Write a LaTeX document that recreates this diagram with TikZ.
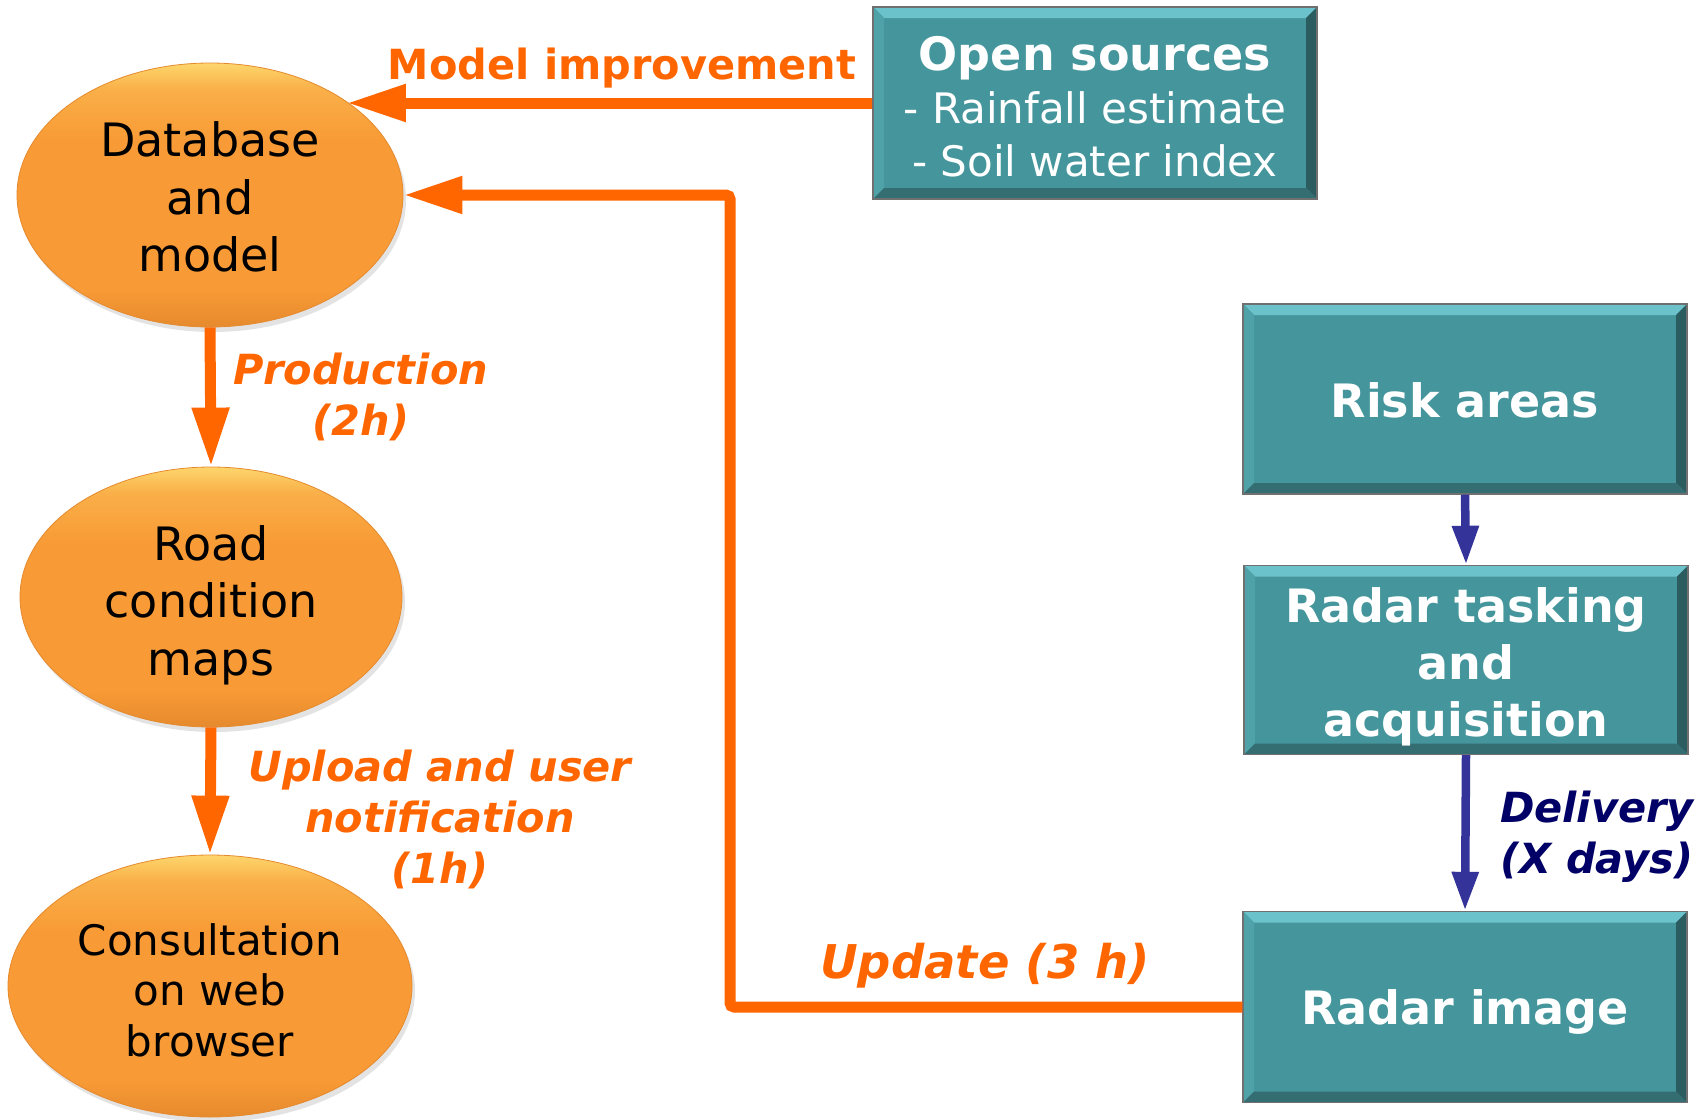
\documentclass[tikz,border=0pt]{standalone}
\usepackage{fontspec}
\setmainfont{DejaVu Sans}
\usetikzlibrary{arrows.meta,shapes.geometric,shadows}
\definecolor{arrorange}{HTML}{FF6600}
\definecolor{txtorange}{HTML}{FF6600}
\definecolor{tealmain}{HTML}{45969C}
\definecolor{tealtop}{HTML}{6CC2CA}
\definecolor{tealleft}{HTML}{4FA2A8}
\definecolor{tealright}{HTML}{2B5C60}
\definecolor{tealbottom}{HTML}{346E73}
\definecolor{edgegray}{HTML}{707070}
\definecolor{ellorange}{HTML}{F89A35}
\definecolor{ellyellow}{HTML}{FDD66C}
\definecolor{ellrim}{HTML}{E58A2E}
\definecolor{bluearr}{HTML}{333399}
\definecolor{navytxt}{HTML}{000066}
\pgfdeclareverticalshading{ellshade}{100bp}{color(0bp)=(ellrim); color(25bp)=(ellrim); color(32bp)=(ellorange); color(60bp)=(ellorange); color(70bp)=(ellorange!65!ellyellow); color(75bp)=(ellyellow); color(100bp)=(ellyellow)}
\begin{document}
\begin{tikzpicture}[x=1pt,y=-1pt,
  ellnode/.style={ellipse, inner sep=0pt, draw=ellrim, line width=0.8pt,
    shading=ellshade, drop shadow={opacity=0.22, shadow xshift=3pt, shadow yshift=-5pt}},
  elltext/.style={align=center, text=black, inner sep=0pt},
  tealbox/.style={rectangle, inner sep=0pt, fill=tealmain, draw=edgegray, line width=1.4pt,
    minimum width=444pt,
    path picture={
      \coordinate (bnw) at (path picture bounding box.north west);
      \coordinate (bne) at (path picture bounding box.north east);
      \coordinate (bsw) at (path picture bounding box.south west);
      \coordinate (bse) at (path picture bounding box.south east);
      \fill[tealtop] (bnw) -- (bne) -- ([shift={(-11pt,-11pt)}]bne) -- ([shift={(11pt,-11pt)}]bnw) -- cycle;
      \fill[tealleft] (bnw) -- ([shift={(11pt,-11pt)}]bnw) -- ([shift={(11pt,11pt)}]bsw) -- (bsw) -- cycle;
      \fill[tealright] (bne) -- ([shift={(-11pt,-11pt)}]bne) -- ([shift={(-11pt,11pt)}]bse) -- (bse) -- cycle;
      \fill[tealbottom] (bsw) -- ([shift={(11pt,11pt)}]bsw) -- ([shift={(-11pt,11pt)}]bse) -- (bse) -- cycle;
    }},
  boxtext/.style={text=white, align=center, inner sep=0pt},
  boxtitle/.style={font=\fontsize{46}{57}\selectfont\bfseries},
  oarr/.style={draw=arrorange, line width=11pt, -{Triangle[length=59pt,width=35pt]}},
  barr/.style={draw=bluearr, line width=8.5pt, -{Triangle[length=39pt,width=25pt]}},
  olabel/.style={text=txtorange, align=center, inner sep=0pt},
  italabel/.style={font=\fontsize{41.5}{51}\selectfont\bfseries\itshape}
]
\fill[white] (0,0) rectangle (1702,1119);
\useasboundingbox (0,0) rectangle (1702,1119);

% ellipses
\node[ellnode, minimum width=386pt, minimum height=264pt] (db) at (210,195) {};
\node[ellnode, minimum width=382pt, minimum height=260pt] (rc) at (211,597) {};
\node[ellnode, minimum width=404pt, minimum height=262pt] (cw) at (210,986) {};
\node[elltext, font=\fontsize{46}{57.5}\selectfont] (dbt) at ([yshift=-2pt]db.center) {Database\\and\\model};
\node[elltext, font=\fontsize{46}{57.5}\selectfont] (rct) at ([yshift=-8pt]rc.center) {Road\\condition\\maps};
\node[elltext, font=\fontsize{42}{50.5}\selectfont] (cwt) at ([yshift=-4pt]cw.center) {Consultation\\on web\\browser};

% boxes
\node[tealbox, minimum height=192pt] (os) at (1095,103) {};
\node[tealbox, minimum height=190pt] (risk) at (1465,399) {};
\node[tealbox, minimum height=189pt] (rt) at (1466,660) {};
\node[tealbox, minimum height=191pt] (ri) at (1465,1007) {};
\node[boxtext, font=\fontsize{42}{53}\selectfont] (ost) at ([yshift=-4pt]os.center)
  {{\fontsize{46}{53}\selectfont\bfseries Open sources}\\- Rainfall estimate\\- Soil water index};
\node[boxtext, boxtitle] (riskt) at ([yshift=-1pt]risk.center) {Risk areas};
\node[boxtext, boxtitle] (rtt) at ([yshift=-7pt]rt.center) {Radar tasking\\and\\acquisition};
\node[boxtext, boxtitle] (rit) at ([yshift=-5pt]ri.center) {Radar image};

% connectors
\coordinate (upc) at (730,600);
\draw[oarr] (os.west) -- (os.west -| db.north east);
\draw[oarr, rounded corners=4pt] (ri.west) -- (ri.west -| upc) -- (upc |- db.east) -- (db.east);
\draw[oarr] (db.south) -- (rc.north);
\draw[oarr] (rc.south) -- (cw.north);
\draw[barr] (risk.south) -- (rt.north);
\draw[barr] (rt.south) -- (ri.north);

% labels
\node[olabel, font=\fontsize{41.5}{51}\selectfont\bfseries] (lmi) at (622,68) {Model improvement};
\node[olabel, italabel] (lpr) at (361,397) {Production\\(2h)};
\node[olabel, italabel] (lup) at (440,819) {Upload and user\\notification\\(1h)};
\node[olabel, font=\fontsize{46.5}{51}\selectfont\bfseries\itshape] (lud) at (985,966) {Update (3 h)};
\node[olabel, italabel, text=navytxt] (ldv) at (1597,837) {Delivery\\(X days)};
\end{tikzpicture}
\end{document}
